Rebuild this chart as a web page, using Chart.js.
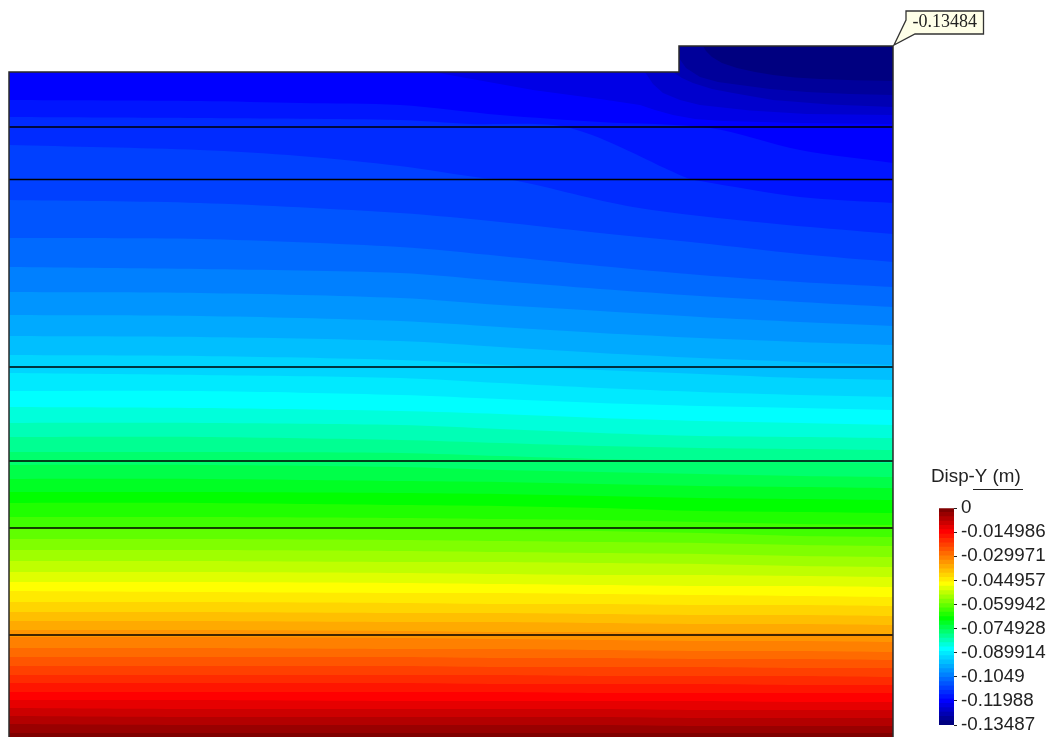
<!DOCTYPE html>
<html>
<head>
<meta charset="utf-8">
<style>
html,body{margin:0;padding:0;background:#fff;width:1050px;height:737px;overflow:hidden}
canvas{position:absolute;display:block}
#main{left:0;top:0}
#legend{left:925px;top:460px}
</style>
<script src="https://cdn.jsdelivr.net/npm/chart.js@4"></script>
</head>
<body>
<canvas id="main" width="1050" height="737"></canvas>
<canvas id="legend" width="125" height="277"></canvas>
<script>
// Model section: x = distance (m), d = depth below datum (m)
const modelOutlineX = [0, 0, 67, 67, 88.4, 88.4];
const modelOutlineD = [73.7, 7.2, 7.2, 4.6, 4.6, 73.7];
const layerDepths = [12.7, 17.95, 36.7, 46.1, 52.8, 63.5];
const calloutText = "-0.13484";
const legendTitle = "Disp-Y (m)";

// Contours near the loaded surface (each with its own stations)
const upperX = [
  [0,67,67,69.4,69.7,70.3,71.3,72.8,74.6,76.4,78.6,81.1,84.6,88.4],
  [0,67,67,67.7,69.1,70.9,73.1,76.1,79.8,84.1,88.4],
  [0,66.4,67.3,68.4,70.3,72.4,76.4,82.1,88.4],
  [0,63.6,64.4,65.4,67.1,69.1,74.1,79.8,88.4],
  [0,42.4,52.4,59.1,63.1,64.6,66.4,68.6,71.4,79.1,88.4],
  [0,19.1,29.1,39.1,49.1,59.1,70.1,79.1,88.4],
  [0,19.1,39.1,46.1,56.1,67.8,69.1,79.1,88.4],
  [0,19.1,29.1,39.1,47.4,50.4,62.4,75.8,88.4]
];
const upperD = [
  [7.2,7.2,4.6,4.6,5.1,5.7,6.3,6.8,7.2,7.5,7.75,7.9,8.03,8.1],
  [7.2,7.2,5.8,6.8,7.7,8.2,8.5,8.9,9.2,9.4,9.5],
  [7.2,7.2,7.8,8.3,8.9,9.3,10.0,10.45,10.7],
  [7.2,7.2,8.4,9.3,10.0,10.5,11.05,11.4,11.5],
  [7.2,7.2,9.0,9.9,10.5,11.0,11.5,11.9,12.1,12.3,12.4],
  [10.0,10.1,10.3,10.5,11.5,12.2,12.8,15.0,16.3],
  [11.7,11.8,12.0,12.4,12.8,17.8,18.1,19.7,20.3],
  [14.5,15.0,15.6,16.6,17.8,18.0,20.7,22.3,23.4]
];

// Remaining contours, read at shared stations
const stationX = [0,19.1,39.1,49.1,59.1,69.1,79.1,88.4];
const lowerD = [
  [20.0,20.3,21.3,22.2,23.3,24.3,25.4,26.2],
  [23.8,23.9,24.7,25.6,26.6,27.5,28.2,28.7],
  [26.7,26.9,27.3,28.1,28.9,29.6,30.2,30.7],
  [29.2,29.3,29.8,30.5,31.1,31.7,32.2,32.6],
  [31.5,31.6,32.1,32.7,33.3,33.8,34.2,34.5],
  [33.6,33.7,34.1,34.7,35.3,35.8,36.2,36.5],
  [35.5,35.6,36.0,36.5,37.0,37.4,37.8,38.0],
  [37.3,37.5,37.8,38.3,38.8,39.2,39.5,39.7],
  [39.1,39.1,39.5,39.9,40.3,40.6,40.8,41.0],
  [40.7,40.8,41.1,41.4,41.8,42.1,42.3,42.5],
  [42.3,42.3,42.5,42.9,43.3,43.6,43.7,43.8],
  [43.7,43.7,44.0,44.3,44.6,44.8,44.9,45.0],
  [45.2,45.2,45.3,45.6,45.9,46.1,46.2,46.3],
  [46.5,46.5,46.7,47.0,47.2,47.4,47.6,47.7],
  [47.9,47.9,48.1,48.2,48.4,48.6,48.7,48.8],
  [49.2,49.2,49.3,49.4,49.6,49.8,49.9,50.0],
  [50.3,50.3,50.5,50.6,50.8,51.1,51.2,51.3],
  [51.7,51.7,51.8,51.9,52.0,52.2,52.4,52.5],
  [52.8,52.8,52.9,53.0,53.1,53.3,53.6,53.7],
  [53.9,53.9,54.0,54.1,54.2,54.3,54.5,54.6],
  [55.0,55.0,55.1,55.2,55.3,55.4,55.6,55.7],
  [56.1,56.1,56.2,56.2,56.3,56.4,56.6,56.7],
  [57.2,57.2,57.3,57.4,57.5,57.5,57.6,57.7],
  [58.2,58.2,58.3,58.4,58.5,58.6,58.6,58.7],
  [59.1,59.2,59.3,59.3,59.4,59.5,59.6,59.7],
  [60.2,60.2,60.3,60.4,60.4,60.5,60.5,60.6],
  [61.2,61.2,61.3,61.3,61.4,61.5,61.5,61.6],
  [62.1,62.1,62.2,62.2,62.3,62.4,62.4,62.5],
  [63.0,63.0,63.1,63.2,63.2,63.3,63.3,63.4],
  [63.7,63.7,63.8,63.9,64.0,64.1,64.1,64.2],
  [64.8,64.8,64.9,64.9,65.0,65.1,65.1,65.2],
  [65.7,65.7,65.7,65.8,65.8,65.9,65.9,66.0],
  [66.6,66.6,66.6,66.7,66.7,66.7,66.8,66.8],
  [67.5,67.5,67.5,67.5,67.6,67.6,67.6,67.7],
  [68.3,68.3,68.3,68.4,68.4,68.4,68.5,68.5],
  [69.2,69.2,69.2,69.2,69.3,69.3,69.3,69.3],
  [70.0,70.0,70.1,70.1,70.1,70.1,70.2,70.2],
  [70.8,70.9,70.9,70.9,70.9,71.0,71.0,71.0],
  [71.6,71.7,71.7,71.7,71.7,71.8,71.8,71.8],
  [72.4,72.5,72.5,72.5,72.5,72.6,72.6,72.6],
  [73.3,73.3,73.3,73.3,73.3,73.3,73.3,73.3]
];

// Colour of each band, deepest displacement first
const bandColors = [
  "#000080","#00009a","#0000b3","#0000cd","#0000e6","#0000ff",
  "#0015ff","#002bff","#0040ff","#0055ff","#006aff","#0080ff",
  "#0095ff","#00aaff","#00bfff","#00d5ff","#00eaff","#00ffff",
  "#00ffdb","#00ffb6","#00ff92","#00ff6d","#00ff49","#00ff24","#00ff00",
  "#20ff00","#40ff00","#60ff00","#80ff00","#9fff00","#bfff00","#dfff00","#ffff00",
  "#ffea00","#ffd500","#ffbf00","#ffaa00","#ff9500","#ff8000","#ff6a00",
  "#ff5500","#ff4000","#ff2b00","#ff1500","#ff0000",
  "#e60000","#cc0000","#b30000","#990000","#800000"
];
// Upper value of each band (m)
const bandTops = [
  -0.13217,-0.12948,-0.12678,-0.12408,-0.12138,-0.11869,-0.11599,-0.11329,-0.11059,-0.10790,
  -0.10520,-0.10250,-0.09981,-0.09711,-0.09441,-0.09171,-0.08902,-0.08632,-0.08362,-0.08092,
  -0.07823,-0.07553,-0.07283,-0.07014,-0.06744,-0.06474,-0.06204,-0.05935,-0.05665,-0.05395,
  -0.05125,-0.04856,-0.04586,-0.04316,-0.04046,-0.03777,-0.03507,-0.03237,-0.02968,-0.02698,
  -0.02428,-0.02158,-0.01889,-0.01619,-0.01349,-0.01079,-0.00809,-0.00540,-0.00270,0
];
const legendTickValues = [0,-0.014986,-0.029971,-0.044957,-0.059942,-0.074928,-0.089914,-0.1049,-0.11988,-0.13487];
const legendTickLabels = ["0","-0.014986","-0.029971","-0.044957","-0.059942","-0.074928","-0.089914","-0.1049","-0.11988","-0.13487"];

const toPts = (xs, ds) => xs.map((x, i) => ({x, y: ds[i]}));
const bandPaths = [toPts(modelOutlineX.slice(1, 5), modelOutlineD.slice(1, 5))]
  .concat(upperX.map((xs, i) => toPts(xs, upperD[i])))
  .concat(lowerD.map(ds => toPts(stationX, ds)));

const datasets = bandPaths.map((pts, i) => ({
  type: 'line', data: pts, parsing: false, normalized: false,
  pointRadius: 0, borderWidth: 0, borderColor: 'transparent', tension: i >= 6 ? 0.3 : 0,
  backgroundColor: bandColors[i], fill: 'start', order: 100 - i
}));
layerDepths.forEach(d => datasets.push({
  type: 'line', data: [{x: 0, y: d}, {x: 88.4, y: d}], parsing: false,
  pointRadius: 0, borderWidth: 1.4, borderColor: '#000', fill: false, order: 0, tension: 0
}));
datasets.push({
  type: 'line', data: toPts(modelOutlineX, modelOutlineD), parsing: false,
  pointRadius: 0, borderWidth: 1.5, borderColor: '#2a2a2a', fill: false, order: -1, tension: 0
});

const calloutPlugin = {
  id: 'callout',
  afterDraw(chart) {
    const c = chart.ctx, tx = chart.scales.x.getPixelForValue(88.4), ty = chart.scales.y.getPixelForValue(4.6);
    const L = 906, R = 983.5, T = 11, B = 34;
    c.save();
    c.beginPath();
    c.moveTo(L, T); c.lineTo(R, T); c.lineTo(R, B); c.lineTo(915, B);
    c.lineTo(tx + 1, ty - 1); c.lineTo(L, 20); c.closePath();
    c.fillStyle = '#ffffe8'; c.fill();
    c.strokeStyle = '#333'; c.lineWidth = 1.3; c.stroke();
    c.fillStyle = '#222'; c.font = '18px "Liberation Serif"';
    c.textAlign = 'center'; c.textBaseline = 'middle';
    c.fillText(calloutText, (L + R) / 2, 22.5);
    c.restore();
  }
};

new Chart(document.getElementById('main'), {
  type: 'scatter',
  data: {datasets},
  plugins: [calloutPlugin],
  options: {
    responsive: false, animation: false, devicePixelRatio: 1,
    layout: {padding: 0},
    plugins: {legend: {display: false}, tooltip: {enabled: false}},
    scales: {
      x: {type: 'linear', display: false, min: -0.9, max: 104.1},
      y: {type: 'linear', display: false, reverse: true, min: 0, max: 73.7}
    }
  }
});

const legendTitlePlugin = {
  id: 'legendTitle',
  afterDraw(chart) {
    const c = chart.ctx;
    c.save();
    c.fillStyle = '#222'; c.font = '18.8px "Liberation Sans"';
    c.textAlign = 'left'; c.textBaseline = 'middle';
    c.fillText(legendTitle, 6, 17);
    c.strokeStyle = '#222'; c.lineWidth = 1;
    c.beginPath(); c.moveTo(48, 29.5); c.lineTo(98, 29.5); c.stroke();
    c.restore();
  }
};

new Chart(document.getElementById('legend'), {
  type: 'bar',
  data: {
    labels: [legendTitle],
    datasets: bandTops.map((top, i) => ({
      data: [[-0.13487, top]], backgroundColor: bandColors[i], borderWidth: 0,
      grouped: false, barPercentage: 1, categoryPercentage: 1
    }))
  },
  plugins: [legendTitlePlugin],
  options: {
    responsive: false, animation: false, devicePixelRatio: 1,
    layout: {padding: {top: 48, bottom: 12, left: 14, right: 0}},
    plugins: {legend: {display: false}, tooltip: {enabled: false}},
    scales: {
      x: {display: false},
      y: {
        position: 'right', min: -0.13487, max: 0,
        afterBuildTicks: s => { s.ticks = legendTickValues.map(v => ({value: v})); },
        afterFit: s => { s.width = 96; s.paddingTop = 0; s.paddingBottom = 0; },
        border: {display: false},
        grid: {drawOnChartArea: false, drawTicks: true, tickLength: 3, color: '#222'},
        ticks: {
          autoSkip: false, padding: 4, color: '#222',
          font: {family: '"Liberation Sans"', size: 18.8},
          callback: (v, i) => legendTickLabels[i]
        }
      }
    }
  }
});
</script>
</body>
</html>
